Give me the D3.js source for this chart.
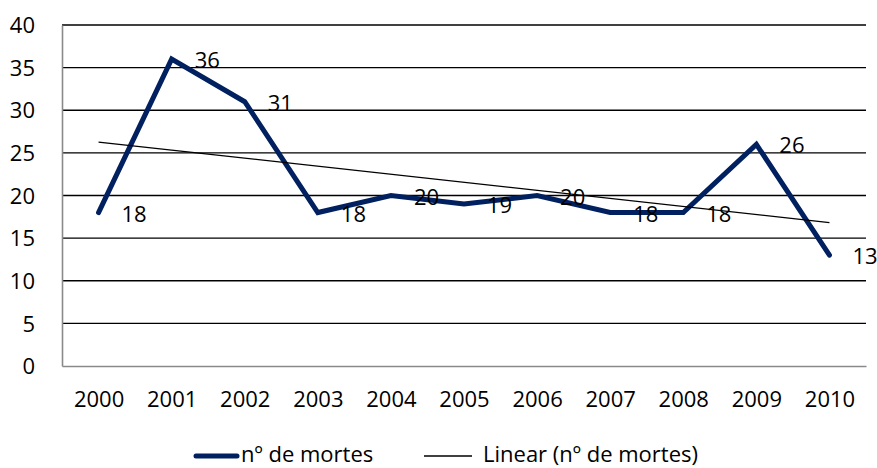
<!DOCTYPE html>
<meta charset="utf-8">
<html>
<head>
<style>
    body { margin: 0; background: #fff; }
    svg text { font-family: "Open Sans", "Noto Sans", sans-serif; fill: #000; }
</style>
</head>
<body>
<svg width="877" height="468"></svg>
<script src="https://d3js.org/d3.v7.min.js"></script>
<script>

    var years = ["2000", "2001", "2002", "2003", "2004", "2005", "2006", "2007", "2008", "2009", "2010"];
    var deaths = [18, 36, 31, 18, 20, 19, 20, 18, 18, 26, 13];
    var yTicks = [0, 5, 10, 15, 20, 25, 30, 35, 40];
    var seriesName = "nº de mortes";
    var trendName = "Linear (nº de mortes)";

    var svg = d3.select("svg");
    var plotL = 62, plotR = 866, plotT = 25, plotB = 366;
    var navy = "#002060";

    var x = d3.scalePoint().domain(years).range([plotL, plotR]).padding(0.5);
    var y = d3.scaleLinear().domain([0, 40]).range([plotB, plotT]);

    // gridlines
    svg.append("g")
        .selectAll("line")
        .data(yTicks.filter(d => d > 0))
        .enter().append("line")
        .attr("x1", plotL).attr("x2", plotR)
        .attr("y1", d => y(d)).attr("y2", d => y(d))
        .attr("stroke", "#000").attr("stroke-width", 1.4);

    // axes
    var yAxis = svg.append("g")
        .attr("transform", "translate(" + plotL + ",0)")
        .call(d3.axisLeft(y).tickValues(yTicks).tickSize(0).tickPadding(27));
    yAxis.select(".domain").attr("stroke", "#8a8a8a").attr("stroke-width", 1.6);
    yAxis.selectAll("text").style("font-size", "22px").attr("dy", "0.35em").attr("fill", "#000");

    var xAxis = svg.append("g")
        .attr("transform", "translate(0," + plotB + ")")
        .call(d3.axisBottom(x).tickSize(0).tickPadding(25));
    xAxis.select(".domain").attr("stroke", "#8a8a8a").attr("stroke-width", 1.6);
    xAxis.selectAll("text").style("font-size", "22px").attr("fill", "#000");

    // series line
    var line = d3.line()
        .x((d, i) => x(years[i]))
        .y(d => y(d));

    svg.append("path")
        .datum(deaths)
        .attr("d", line)
        .attr("fill", "none")
        .attr("stroke", navy)
        .attr("stroke-width", 5)
        .attr("stroke-linejoin", "miter")
        .attr("stroke-linecap", "round");

    // linear trend (least squares on the series)
    var n = deaths.length;
    var mx = d3.mean(deaths, (d, i) => i);
    var my = d3.mean(deaths);
    var slope = d3.sum(deaths, (d, i) => (i - mx) * (d - my)) / d3.sum(deaths, (d, i) => (i - mx) * (i - mx));
    var icpt = my - slope * mx;
    svg.append("line")
        .attr("x1", x(years[0])).attr("y1", y(icpt))
        .attr("x2", x(years[n - 1])).attr("y2", y(icpt + slope * (n - 1)))
        .attr("stroke", "#000").attr("stroke-width", 1.3);

    // data labels
    svg.append("g")
        .selectAll("text")
        .data(deaths)
        .enter().append("text")
        .attr("x", (d, i) => x(years[i]) + 23)
        .attr("y", d => y(d) + 9)
        .style("font-size", "22px")
        .text(d => d);

    // legend
    var lg = svg.append("g");
    lg.append("line")
        .attr("x1", 196).attr("x2", 237).attr("y1", 456).attr("y2", 456)
        .attr("stroke", navy).attr("stroke-width", 5).attr("stroke-linecap", "round");
    lg.append("text").attr("x", 241).attr("y", 462).style("font-size", "22px").text(seriesName);
    lg.append("line")
        .attr("x1", 424).attr("x2", 472).attr("y1", 456).attr("y2", 456)
        .attr("stroke", "#000").attr("stroke-width", 1.3);
    lg.append("text").attr("x", 483).attr("y", 462).style("font-size", "22px").text(trendName);

</script>
</body>
</html>
